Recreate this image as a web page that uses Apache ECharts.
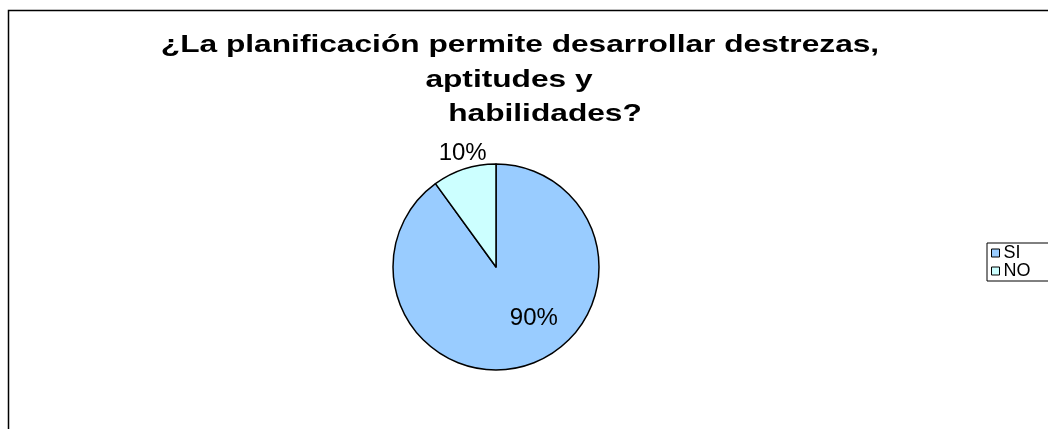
<!DOCTYPE html>
<html>
<head>
<meta charset="utf-8">
<script src="https://cdn.jsdelivr.net/npm/echarts@6/dist/echarts.min.js"></script>
<style>
  html, body { margin: 0; padding: 0; background: #fff; }
  #chart { width: 1048px; height: 429px; }
</style>
</head>
<body>
<div id="chart"></div>
<script>
// datos de la encuesta
var categories = ['SI', 'NO'];
var values = [90, 10];
var colors = ['#99CCFF', '#CCFFFF'];
var titleLines = ['¿La planificación permite desarrollar destrezas,', 'aptitudes y', 'habilidades?'];

var font = '"Liberation Sans", Arial, sans-serif';

var chart = echarts.init(document.getElementById('chart'));

// el titulo original esta estirado en horizontal, por eso scaleX
var titleX = [520, 509, 545];
var titleY = [33, 68, 102];

var titleText = titleLines.map(function (t, i) {
    return {
        type: 'text',
        x: titleX[i],
        y: titleY[i],
        scaleX: 1.32,
        silent: true,
        style: {
            x: 0, y: 0,
            text: t,
            font: 'bold 24px ' + font,
            fill: '#000',
            align: 'center',
            verticalAlign: 'top'
        }
    };
});

chart.setOption({
    backgroundColor: '#fff',
    animation: false,
    graphic: [{
        type: 'rect',
        shape: { x: 8.5, y: 10.5, width: 1100, height: 500 },
        style: { fill: 'none', stroke: '#000', lineWidth: 1.5 },
        silent: true
    }].concat(titleText),
    legend: {
        orient: 'vertical',
        left: 987,
        top: 243,
        data: categories,
        icon: 'rect',
        itemWidth: 8,
        itemHeight: 8,
        itemGap: 0,
        padding: [1, 30, 1, 4],
        borderColor: '#000',
        borderWidth: 1,
        itemStyle: { borderColor: '#000', borderWidth: 1 },
        textStyle: { fontFamily: font, fontSize: 18, color: '#000', padding: [0, 0, 0, -1] }
    },
    series: [{
        type: 'pie',
        center: [496, 267],
        radius: 103,
        startAngle: 90,
        clockwise: true,
        data: categories.map(function (c, i) {
            return {
                name: c,
                value: values[i],
                itemStyle: { color: colors[i] },
                label: i === 0 ? { position: 'inside' } : { position: 'outside' }
            };
        }),
        itemStyle: { borderColor: '#000', borderWidth: 1.5 },
        label: {
            formatter: '{d}%',
            fontFamily: font,
            fontSize: 24,
            color: '#000'
        },
        labelLine: { show: false, length: 8, length2: 0 },
        labelLayout: function (p) {
            return p.dataIndex === 0 ? { dx: 21, dy: 0 } : { dx: 30, dy: -8 };
        },
        emphasis: { disabled: true }
    }]
});
</script>
</body>
</html>
